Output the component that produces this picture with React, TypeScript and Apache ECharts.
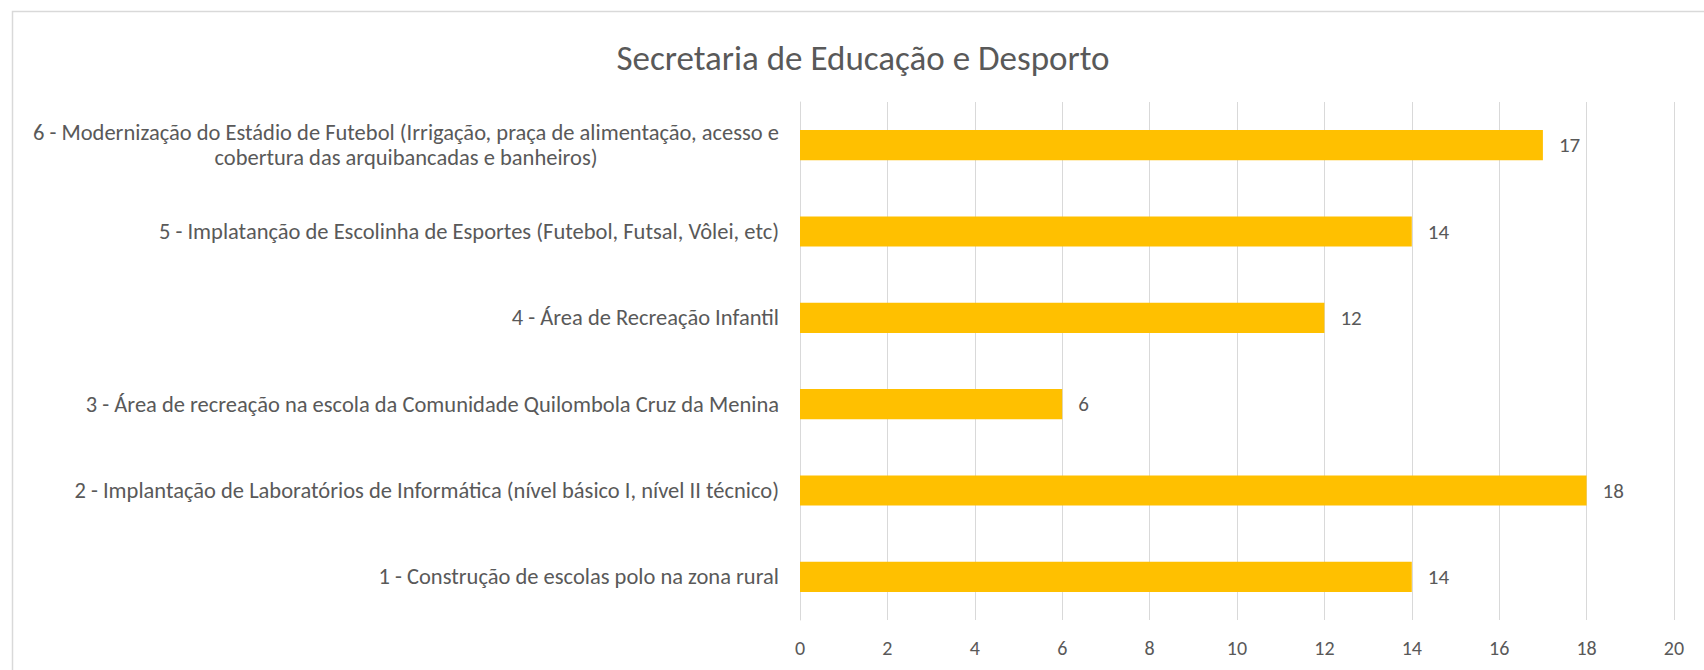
import React, { useEffect, useRef } from "react";
import * as echarts from "echarts";

const chartTitle = "Secretaria de Educação e Desporto";

const categories = [
  "1 - Construção de escolas polo na zona rural",
  "2 - Implantação de Laboratórios de Informática (nível básico I, nível II técnico)",
  "3 - Área de recreação na escola da Comunidade Quilombola Cruz da Menina",
  "4 - Área de Recreação Infantil",
  "5 - Implatanção de Escolinha de Esportes (Futebol, Futsal, Vôlei, etc)",
  "6 - Modernização do Estádio de Futebol (Irrigação, praça de alimentação, acesso e\ncobertura das arquibancadas e banheiros)",
];

const values = [14, 18, 6, 12, 14, 17];

const xTicks = { min: 0, max: 20, interval: 2 };

const FONT = "Carlito, Lato, 'Noto Sans', sans-serif";
const TEXT = "#595959";
const GRID = "#d9d9d9";
const BAR = "#FFC000";

export default function App() {
  const ref = useRef<HTMLDivElement>(null);

  useEffect(() => {
    if (!ref.current) return;
    const chart = echarts.init(ref.current, null, { renderer: "svg" });
    chart.setOption({
      animation: false,
      backgroundColor: "#ffffff",
      textStyle: { fontFamily: FONT },
      graphic: [
        {
          type: "rect",
          shape: { x: 12.5, y: 11.5, width: 1720, height: 700 },
          style: { fill: "none", stroke: GRID, lineWidth: 1.5 },
          silent: true,
        },
      ],
      title: {
        text: chartTitle,
        left: 858,
        top: 35,
        textAlign: "center",
        textStyle: {
          fontFamily: FONT,
          fontSize: 35,
          fontWeight: 300,
          color: TEXT,
        },
      },
      grid: { left: 800, right: 30, top: 102, bottom: 50, containLabel: false },
      xAxis: {
        type: "value",
        min: xTicks.min,
        max: xTicks.max,
        interval: xTicks.interval,
        axisLine: { show: false },
        axisTick: { show: false },
        axisLabel: { color: TEXT, fontSize: 20, margin: 18, fontFamily: FONT },
        splitLine: { show: true, lineStyle: { color: GRID, width: 1 } },
      },
      yAxis: {
        type: "category",
        data: categories,
        axisLine: { show: true, lineStyle: { color: GRID, width: 1 } },
        axisTick: { show: false },
        axisLabel: {
          color: TEXT,
          fontSize: 22.5,
          margin: 21,
          fontFamily: FONT,
          lineHeight: 25,
          formatter: (v: string) =>
            v.includes("\n")
              ? v
                  .split("\n")
                  .map((s) => `{c|${s}}`)
                  .join("\n")
              : v,
          rich: {
            c: { align: "center", fontSize: 22.5, color: TEXT, fontFamily: FONT, lineHeight: 25 },
          },
        },
      },
      series: [
        {
          type: "bar",
          data: values,
          barWidth: "35%",
          itemStyle: { color: BAR },
          label: {
            show: true,
            position: "right",
            distance: 16,
            color: TEXT,
            fontSize: 21,
            fontFamily: FONT,
          },
        },
      ],
    });
    return () => chart.dispose();
  }, []);

  return (
    <div
      ref={ref}
      style={{ position: "fixed", left: 0, top: 0, width: 1704, height: 670 }}
    />
  );
}
